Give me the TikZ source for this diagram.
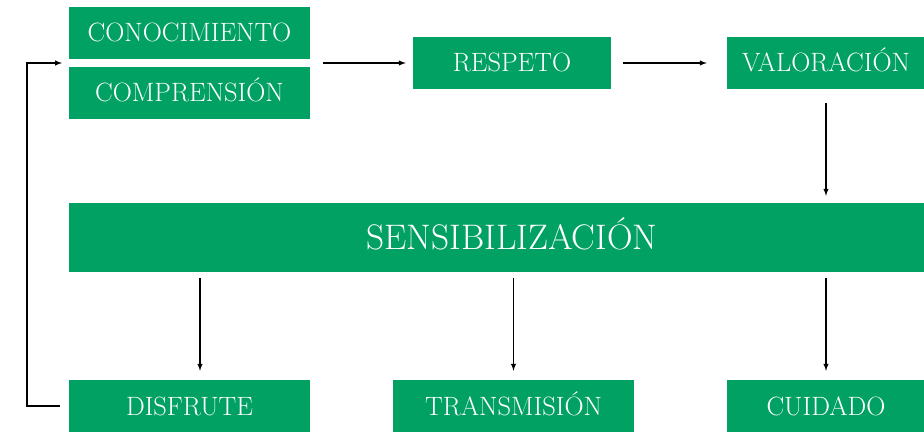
\documentclass[tikz,border=0pt]{standalone}
\usepackage{amsfonts, amsmath, amssymb}
\usepackage{tikz}
\usetikzlibrary{positioning}

\definecolor{verde}{RGB}{0,161,98}
\tikzset{
  caja/.style={fill=verde, text=white, inner sep=0pt, minimum height=52,
    text height=18pt, text depth=0pt, font=\fontsize{26.5}{30}\selectfont},
  flecha/.style={-latex, line width=1.4pt}
}

\begin{document}
\begin{tikzpicture}[x=1pt,y=-1pt]
\clip (0,0) rectangle (924,433);
\node[caja, minimum width=241] (conoc) at (189.5,33) {CONOCIMIENTO};
\node[caja, minimum width=241] (compr) at (189.5,93) {COMPRENSIÓN};
\node[caja, minimum width=198] (respeto) at (512,63) {RESPETO};
\node[caja, minimum width=198] (valor) at (826,63) {VALORACIÓN};
\node[caja, minimum width=886, minimum height=69, text height=24pt,
  font=\fontsize{35.5}{40}\selectfont] (sens) at (512,237.5) {SENSIBILIZACIÓN};
\node[caja, minimum width=241] (disfrute) at (189.5,406) {DISFRUTE};
\node[caja, minimum width=241] (transm) at (513.5,406) {TRANSMISIÓN};
\node[caja, minimum width=198] (cuidado) at (826,406) {CUIDADO};

\coordinate (salida) at (323,63);
\coordinate (entrada) at (62,63);
\coordinate (esquina) at (27,63);

\draw[flecha] (salida) -- ([xshift=-7]respeto.west);
\draw[flecha] ([xshift=12]respeto.east) -- ([xshift=-20]valor.west);
\draw[flecha] ([yshift=-14]valor.south) -- ([yshift=7]sens.north -| valor.south);

\draw[flecha] ([yshift=-6]sens.south -| 200,0) -- ([yshift=9]disfrute.north -| 200,0);
\draw[flecha] ([yshift=-6]sens.south -| transm.north) -- ([yshift=9]transm.north);
\draw[flecha] ([yshift=-6]sens.south -| cuidado.north) -- ([yshift=9]cuidado.north);

\draw[flecha] ([xshift=-9]disfrute.west) -| (esquina) -- (entrada);
\end{tikzpicture}
\end{document}
